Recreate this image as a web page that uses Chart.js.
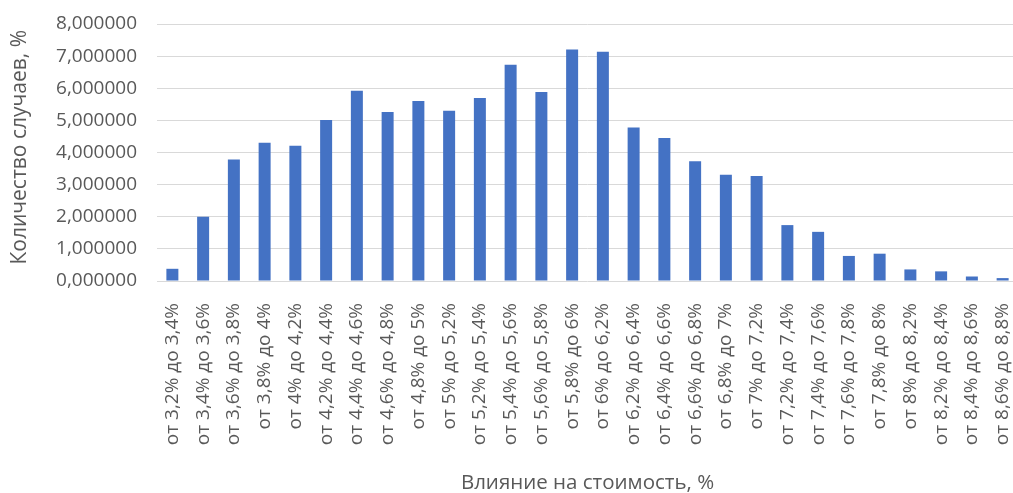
<!DOCTYPE html>
<html>
<head>
<meta charset="utf-8">
<script src="https://cdn.jsdelivr.net/npm/chart.js@4"></script>
<style>
html, body { margin: 0; padding: 0; overflow: hidden; background: #fff; }
#wrap { width: 1020px; height: 493px; position: relative; }
</style>
</head>
<body>
<div id="wrap"><canvas id="c"></canvas></div>
<script>
const categories = [
  "от 3,2% до 3,4%", "от 3,4% до 3,6%", "от 3,6% до 3,8%", "от 3,8% до 4%",
  "от 4% до 4,2%", "от 4,2% до 4,4%", "от 4,4% до 4,6%", "от 4,6% до 4,8%",
  "от 4,8% до 5%", "от 5% до 5,2%", "от 5,2% до 5,4%", "от 5,4% до 5,6%",
  "от 5,6% до 5,8%", "от 5,8% до 6%", "от 6% до 6,2%", "от 6,2% до 6,4%",
  "от 6,4% до 6,6%", "от 6,6% до 6,8%", "от 6,8% до 7%", "от 7% до 7,2%",
  "от 7,2% до 7,4%", "от 7,4% до 7,6%", "от 7,6% до 7,8%", "от 7,8% до 8%",
  "от 8% до 8,2%", "от 8,2% до 8,4%", "от 8,4% до 8,6%", "от 8,6% до 8,8%"
];
const casesPercent = [
  0.38, 2.00, 3.78, 4.30, 4.21, 5.01, 5.92, 5.26,
  5.60, 5.30, 5.70, 6.73, 5.88, 7.21, 7.14, 4.78,
  4.45, 3.73, 3.31, 3.27, 1.74, 1.53, 0.78, 0.85,
  0.36, 0.30, 0.14, 0.09
];
const yTickValues = [0, 1, 2, 3, 4, 5, 6, 7, 8];
const yAxisTitle = "\u2002Количество случаев, %";
const xAxisTitle = "Влияние на стоимость, %";

const FONT = "'Open Sans', sans-serif";
const TEXT = "#595959";

new Chart(document.getElementById('c'), {
  type: 'bar',
  data: {
    labels: categories,
    datasets: [{
      data: casesPercent,
      backgroundColor: '#4472C4',
      borderWidth: 0,
      barPercentage: 0.39,
      categoryPercentage: 1.0
    }]
  },
  options: {
    responsive: true,
    maintainAspectRatio: false,
    animation: false,
    layout: { padding: { top: 24, right: 2, left: 0, bottom: 0 } },
    plugins: { legend: { display: false }, tooltip: { enabled: false } },
    scales: {
      x: {
        grid: { display: false, drawTicks: false },
        border: { display: false },
        ticks: {
          color: TEXT,
          font: { family: FONT, size: 19 },
          minRotation: 90, maxRotation: 90,
          autoSkip: false,
          padding: 22
        },
        title: {
          display: true, text: xAxisTitle, color: TEXT,
          font: { family: FONT, size: 20.5, lineHeight: 1 },
          padding: 0
        },
        afterFit: s => { s.height = 212; s.paddingLeft = 0; s.paddingRight = 0; }
      },
      y: {
        min: 0, max: 8,
        afterBuildTicks: s => { s.ticks = yTickValues.map(v => ({ value: v })); },
        grid: { color: '#d9d9d9', lineWidth: 1, drawTicks: false },
        border: { display: false },
        ticks: {
          color: TEXT,
          font: { family: FONT, size: 19 },
          padding: 20,
          callback: v => v.toFixed(6).replace('.', ',')
        },
        title: {
          display: true, text: yAxisTitle, color: TEXT,
          font: { family: FONT, size: 21, lineHeight: 1.2 },
          padding: { top: 7, bottom: 0 }
        },
        afterFit: s => { s.width = 157; s.paddingTop = 0; s.paddingBottom = 0; }
      }
    }
  }
});
</script>
</body>
</html>
